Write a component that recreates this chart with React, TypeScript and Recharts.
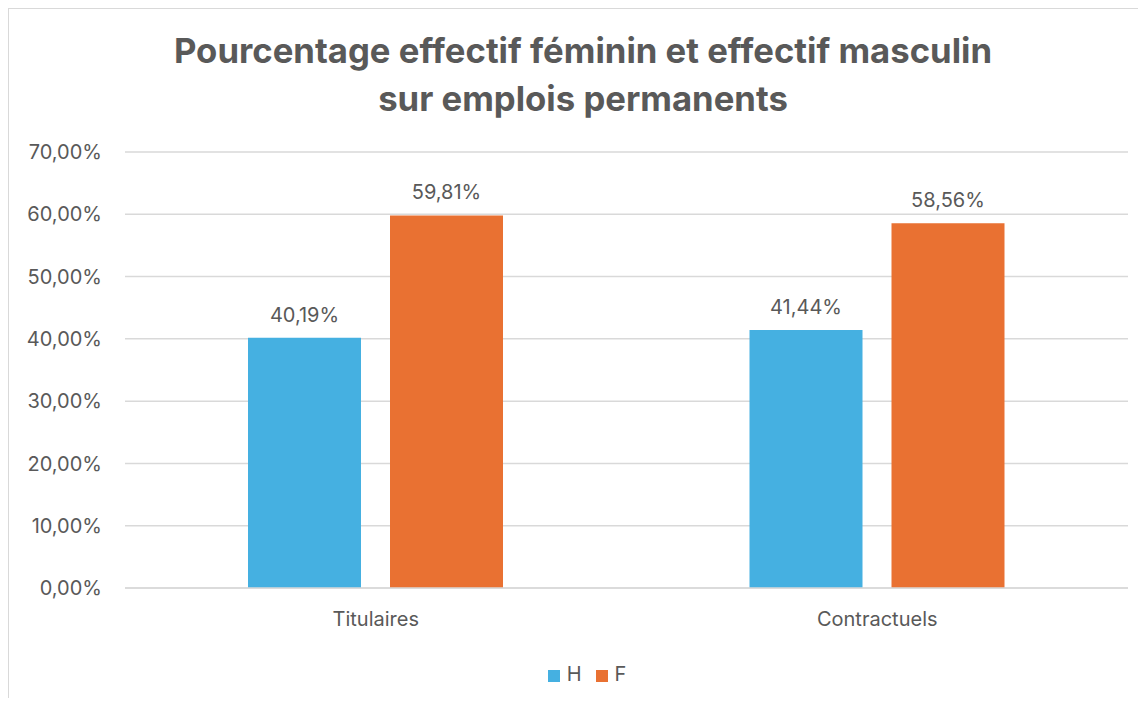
import React from 'react';
import { BarChart, Bar, XAxis, YAxis, CartesianGrid, Legend, LabelList } from 'recharts';

const categories = ['Titulaires', 'Contractuels'];
const hommes = [40.19, 41.44];
const femmes = [59.81, 58.56];
const yTicks = [0, 10, 20, 30, 40, 50, 60, 70];
const seriesOrder = ['H', 'F'];

const data = categories.map((name, i) => ({ name, H: hommes[i], F: femmes[i] }));

const FONT = 'Inter, sans-serif';
const TEXT = '#595959';
const fmt = (v: number) => v.toFixed(2).replace('.', ',') + '%';

export default function App() {
  return (
    <div style={{ position: 'relative', width: 1146, height: 706, margin: -8, overflow: 'hidden', background: '#fff' }}>
      <div
        style={{
          position: 'absolute',
          left: 7,
          top: 7,
          width: 1200,
          height: 697,
          border: '2px solid #d9d9d9',
          boxSizing: 'border-box',
        }}
      />
      <div
        style={{
          position: 'absolute',
          left: 0,
          top: 26,
          width: 1166,
          textAlign: 'center',
          fontFamily: FONT,
          fontWeight: 700,
          fontSize: 34.7,
          lineHeight: '48px',
          color: TEXT,
        }}
      >
        Pourcentage effectif féminin et effectif masculin
        <br />
        sur emplois permanents
      </div>
      <div style={{ position: 'absolute', left: 0, top: 0 }}>
        <BarChart
          width={1146}
          height={706}
          data={data}
          margin={{ top: 152, right: 18, left: 0, bottom: 16 }}
          barSize={113}
          barGap={29}
        >
          <CartesianGrid vertical={false} stroke="#d9d9d9" strokeWidth={1.5} />
          <XAxis
            dataKey="name"
            height={74}
            tickLine={false}
            tickSize={0}
            tickMargin={24}
            axisLine={{ stroke: '#d9d9d9', strokeWidth: 1.5 }}
            tick={{ fill: TEXT, fontSize: 20, fontFamily: FONT }}
          />
          <YAxis
            width={125}
            domain={[0, 70]}
            ticks={yTicks}
            tickFormatter={fmt}
            axisLine={false}
            tickLine={false}
            tickSize={0}
            tickMargin={23}
            tick={{ fill: TEXT, fontSize: 20, fontFamily: FONT }}
          />
          <Legend
            verticalAlign="bottom"
            height={28}
            iconType="square"
            iconSize={12}
            itemSorter={(item: any) => seriesOrder.indexOf(item.value)}
            wrapperStyle={{ left: 0, width: 1188, fontFamily: FONT, fontSize: 20 }}
            formatter={(value: string) => <span style={{ color: TEXT, marginLeft: 3, marginRight: 4 }}>{value}</span>}
          />
          <Bar dataKey="H" name="H" fill="#45B0E1" isAnimationActive={false}>
            <LabelList dataKey="H" position="top" offset={16} formatter={fmt} fill={TEXT} fontSize={20} fontFamily={FONT} />
          </Bar>
          <Bar dataKey="F" name="F" fill="#E97132" isAnimationActive={false}>
            <LabelList dataKey="F" position="top" offset={16} formatter={fmt} fill={TEXT} fontSize={20} fontFamily={FONT} />
          </Bar>
        </BarChart>
      </div>
    </div>
  );
}
